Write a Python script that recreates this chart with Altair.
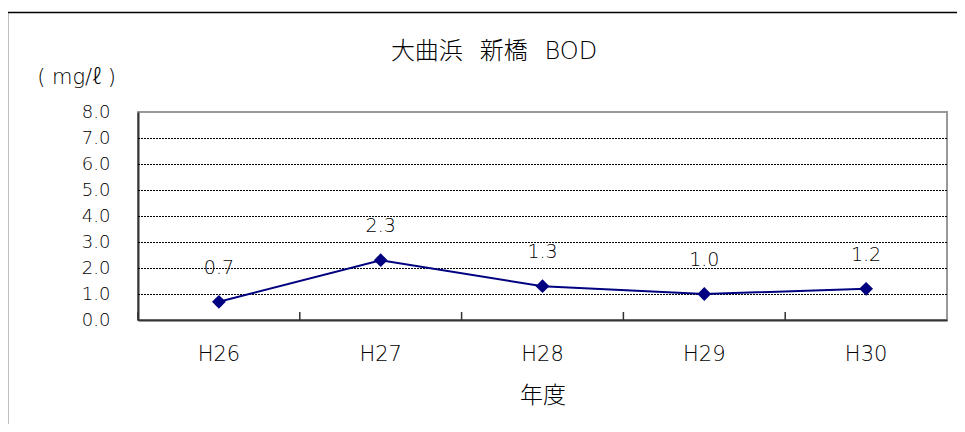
import altair as alt
import pandas as pd

YEARS = ["H26", "H27", "H28", "H29", "H30"]
BOD = [0.7, 2.3, 1.3, 1.0, 1.2]
Y_TICKS = [0, 1, 2, 3, 4, 5, 6, 7, 8]
GRID_LINES = [1, 2, 3, 4, 5, 6, 7]
TITLE = "大曲浜\u2002\u2009新橋\u2002\u2009BOD"
Y_TITLE = "( mg/ℓ )"
X_TITLE = "年度"

df = pd.DataFrame({"year": YEARS, "bod": BOD})
FONT = "DejaVu Sans, Noto Sans CJK JP"
CJK = "Noto Sans CJK JP"
W = 200

xscale = alt.Scale(type="band", domain=YEARS, paddingInner=0, paddingOuter=0)
yscale = alt.Scale(domain=[0, 8], nice=False)

X_AXIS = alt.Axis(title=X_TITLE, labelAngle=0, ticks=False, tickSize=0,
                  labelPadding=23, titlePadding=20, labelFontSize=21,
                  titleFontSize=23, labelFont=FONT, titleFont=CJK,
                  labelFontWeight=W,
                  labelColor="black", titleColor="black",
                  titleFontWeight=300, domainColor="#333333",
                  domainWidth=2, grid=False)
Y_AXIS = alt.Axis(values=Y_TICKS, format=".1f", title=Y_TITLE,
                  titleAngle=0, titleX=-62, titleY=-35,
                  titleAlign="center", titleBaseline="middle",
                  titleFontSize=21, titleFont=FONT, titleColor="black",
                  titleFontWeight=W, labelOverlap=False, labelFlush=False,
                  ticks=False, tickSize=0, labelPadding=28,
                  labelFontSize=18, labelFont=FONT, labelColor="black",
                  labelFontWeight=W, grid=False,
                  domainColor="#333333", domainWidth=2)

def xenc(**kw):
    return alt.X("year:N", sort=YEARS, scale=xscale, axis=X_AXIS, **kw)

def yenc(field="bod:Q"):
    return alt.Y(field, scale=yscale, axis=Y_AXIS)

base = alt.Chart(df)

grid = alt.Chart(pd.DataFrame({"g": GRID_LINES})).mark_rule(
    color="black", strokeWidth=1, strokeDash=[2, 1], yOffset=0.5).encode(
    y=alt.Y("g:Q", scale=yscale, axis=Y_AXIS),
    x=alt.value(0), x2=alt.value(809))

line = base.mark_line(color="#000080", strokeWidth=2).encode(x=xenc(), y=yenc())

ticks = base.mark_rule(color="#333333", strokeWidth=1.5).encode(
    x=xenc(bandPosition=0),
    y=alt.value(200),
    y2=alt.value(208),
)

points = base.mark_point(shape="diamond", filled=True, size=190,
                         color="#000080", opacity=1).encode(x=xenc(), y=yenc())

labels = base.mark_text(dy=-34, fontSize=19, font=FONT, fontWeight=W,
                        color="black").encode(
    x=xenc(), y=yenc(),
    text=alt.Text("bod:Q", format=".1f"),
)

title = alt.Chart(pd.DataFrame({"t": [TITLE]})).mark_text(
    fontSize=24, font=FONT, fontWeight=W, color="black").encode(
    text="t:N", x=alt.value(356), y=alt.value(-60))

frame = alt.Chart(pd.DataFrame({"a": [0]})).mark_rect(
    fillOpacity=0, stroke="black", strokeWidth=1.5).encode(
    x=alt.value(-130.5), x2=alt.value(900), y=alt.value(-99.5), y2=alt.value(400))

chart = alt.layer(frame, grid, line, ticks, points, labels, title).properties(
    width=809, height=208,
    autosize=alt.AutoSizeParams(type="none"),
    padding={"left": 130, "top": 104, "right": 10, "bottom": 104},
).configure_view(stroke="#999999", strokeWidth=2)

chart.save("out.html", embed_options={"renderer": "svg", "actions": False})
